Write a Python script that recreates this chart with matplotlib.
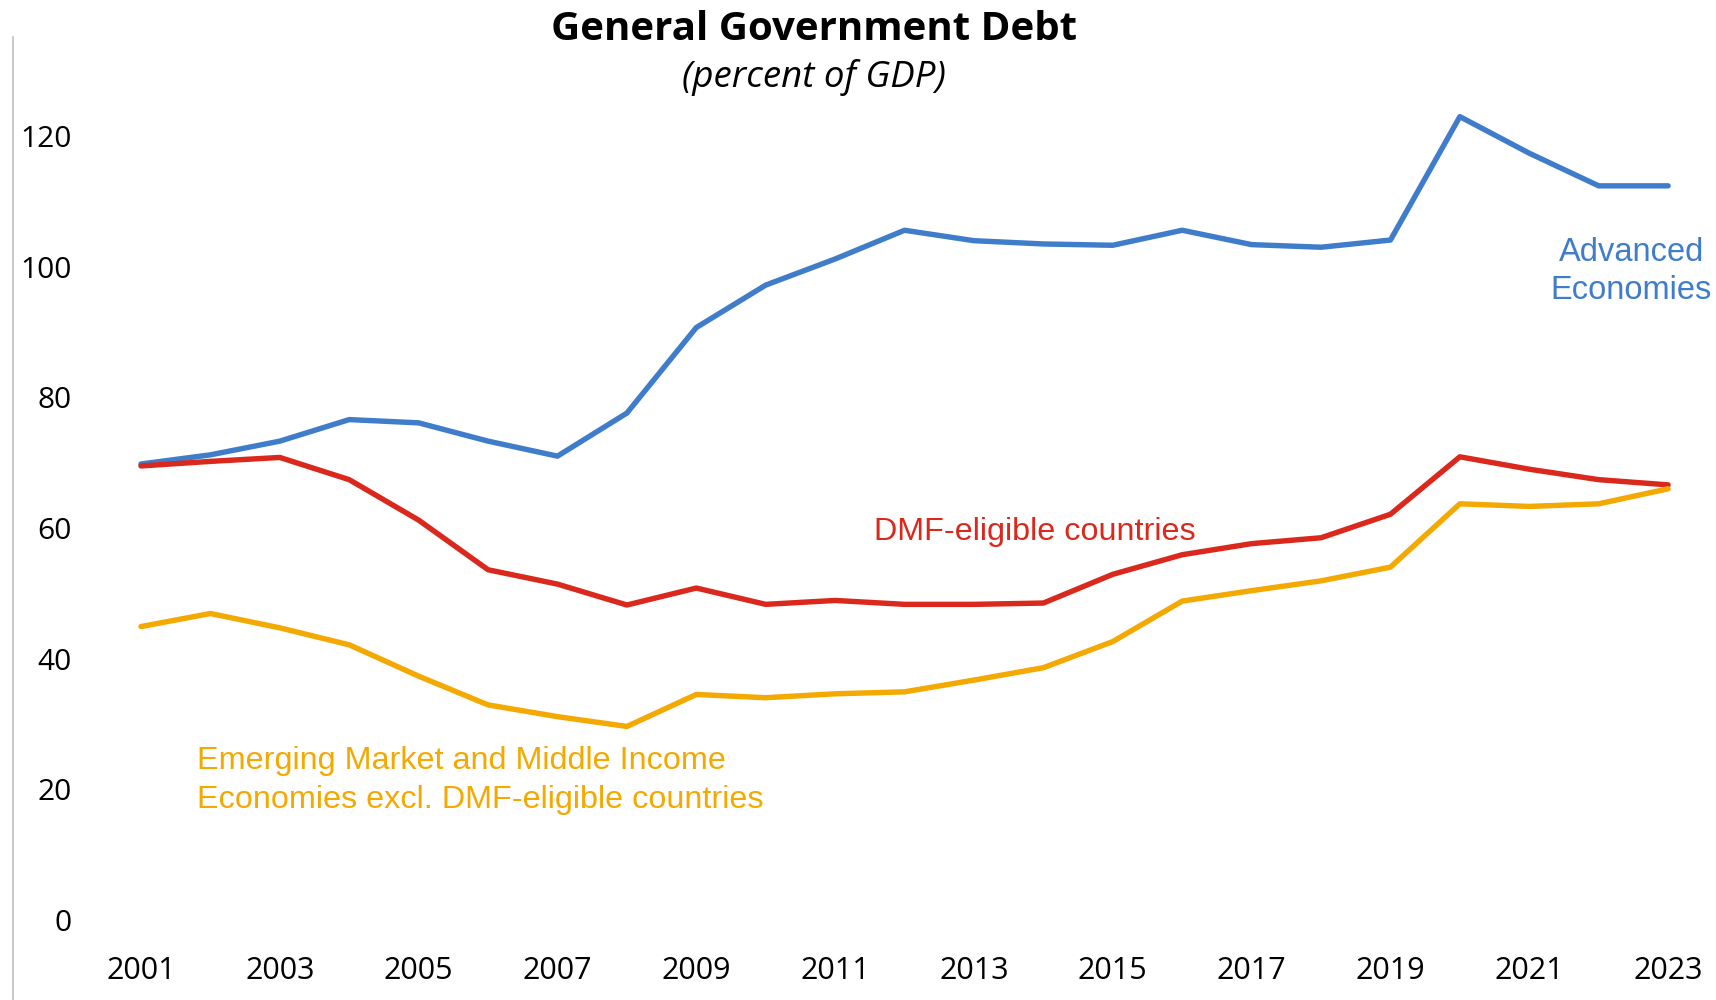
import matplotlib.pyplot as plt

# Series (percent of GDP), 2001-2023
years = list(range(2001, 2024))
advanced = [69.8, 71.2, 73.3, 76.6, 76.1, 73.3, 71.0, 77.6, 90.7, 97.2, 101.2, 105.6,
            104.0, 103.5, 103.3, 105.6, 103.4, 103.0, 104.1, 123.0, 117.4, 112.4, 112.4]
dmf_eligible = [69.5, 70.2, 70.8, 67.4, 61.2, 53.6, 51.4, 48.2, 50.8, 48.3, 48.9, 48.3,
                48.3, 48.5, 52.9, 55.9, 57.6, 58.5, 62.1, 70.9, 69.0, 67.4, 66.6]
emerging_excl = [44.9, 46.9, 44.7, 42.1, 37.3, 32.9, 31.1, 29.6, 34.5, 34.0, 34.6, 34.9,
                 36.7, 38.6, 42.6, 48.8, 50.4, 51.9, 54.0, 63.7, 63.3, 63.7, 66.0]

x_ticks = list(range(2001, 2024, 2))
y_ticks = [0, 20, 40, 60, 80, 100, 120]

blue = '#3F7DCB'
red = '#DA291C'
orange = '#F4A900'

fig = plt.figure(figsize=(17.16, 10), dpi=100)
ax = fig.add_axes([13 / 1716, 0, 1703 / 1716, 0.963])

ax.plot(years, advanced, color=blue, lw=3.9, solid_capstyle='round')
ax.plot(years, dmf_eligible, color=red, lw=3.9, solid_capstyle='round')
ax.plot(years, emerging_excl, color=orange, lw=3.9, solid_capstyle='round')

ax.set_xlim(1999.156, 2023.69)
ax.set_ylim(-12.3, 135.2)

for s in ['top', 'right', 'bottom']:
    ax.spines[s].set_visible(False)
ax.spines['left'].set_color('#BFBFBF')
ax.spines['left'].set_linewidth(1.2)

ax.set_xticks(x_ticks)
ax.set_xticklabels([str(y) for y in x_ticks], fontfamily='Open Sans', fontsize=22)
ax.set_yticks(y_ticks)
ax.set_yticklabels([str(v) for v in y_ticks], fontfamily='Open Sans', fontsize=21.5)
ax.tick_params(axis='y', length=0, pad=-42)
ax.tick_params(axis='x', length=0, pad=-32)

# Series labels
ax.text(2022.47, 99.3, 'Advanced\nEconomies', color=blue, fontsize=23.5,
        fontfamily='Liberation Sans', ha='center', va='center', linespacing=1.32)
ax.text(2013.88, 59.35, 'DMF-eligible countries', color=red, fontsize=23.3,
        fontfamily='Liberation Sans', ha='center', va='center')
ax.text(2001.8, 21.3, 'Emerging Market and Middle Income\nEconomies excl. DMF-eligible countries',
        color=orange, fontsize=23.3, fontfamily='Liberation Sans', ha='left', va='center',
        linespacing=1.37)

# Title and subtitle
fig.text(814 / 1716, 1 - 29 / 1000, 'General Government Debt', fontfamily='Open Sans',
         fontweight='bold', fontsize=29, ha='center', va='center')
fig.text(814 / 1716, 1 - 77 / 1000, '(percent of GDP)', fontfamily='Open Sans',
         fontstyle='italic', fontsize=26.4, ha='center', va='center')

fig.savefig('out.png', dpi=100, facecolor='white')
